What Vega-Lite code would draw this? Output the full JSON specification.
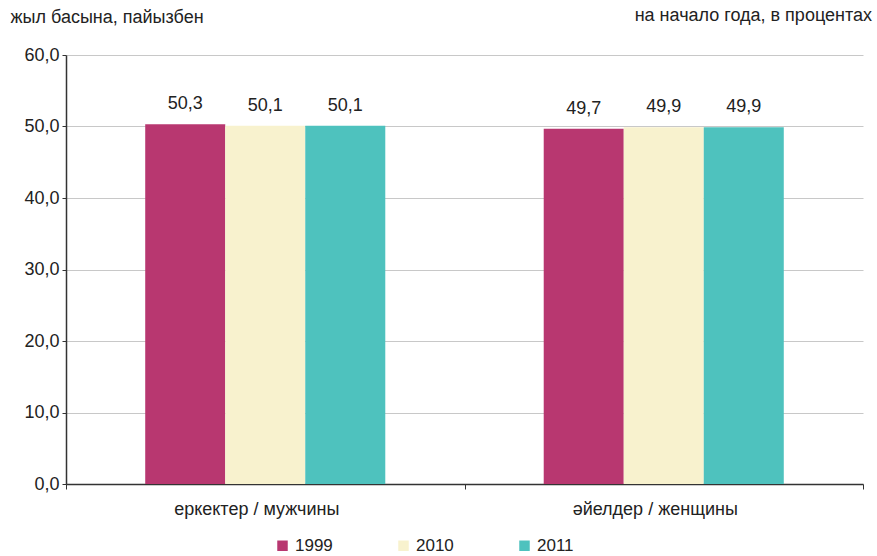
{
  "$schema": "https://vega.github.io/schema/vega-lite/v6.json",
  "width": 797,
  "height": 429,
  "autosize": {"type": "none"},
  "padding": {"left": 66, "top": 55, "right": 14, "bottom": 72},
  "background": "white",
  "title": {
    "text": "на начало года, в процентах",
    "anchor": "end",
    "frame": "group",
    "orient": "top",
    "dx": 9,
    "offset": 0,
    "dy": 17,
    "fontSize": 18,
    "fontWeight": "normal",
    "font": "Liberation Sans",
    "color": "#222222"
  },
  "config": {
    "locale": {"number": {"decimal": ",", "thousands": " ", "grouping": [3], "currency": ["", ""]}},
    "font": "Liberation Sans",
    "view": {"stroke": null}
  },
  "data": {
    "values": [
      {"category": "еркектер / мужчины", "year": "1999", "value": 50.3},
      {"category": "еркектер / мужчины", "year": "2010", "value": 50.1},
      {"category": "еркектер / мужчины", "year": "2011", "value": 50.1},
      {"category": "әйелдер / женщины", "year": "1999", "value": 49.7},
      {"category": "әйелдер / женщины", "year": "2010", "value": 49.9},
      {"category": "әйелдер / женщины", "year": "2011", "value": 49.9}
    ]
  },
  "encoding": {
    "x": {
      "field": "category",
      "type": "nominal",
      "sort": null,
      "scale": {"paddingInner": 0, "paddingOuter": 0},
      "axis": {
        "title": null,
        "labelAngle": 0,
        "labelFontSize": 18,
        "labelColor": "#222222",
        "labelPadding": 11,
        "labelOffset": -9,
        "tickBand": "extent",
        "tickSize": 5,
        "tickColor": "#333333",
        "domainColor": "#333333",
        "domainWidth": 1.5
      }
    },
    "xOffset": {
      "field": "year",
      "type": "nominal",
      "scale": {"paddingInner": 0, "paddingOuter": 0.99}
    },
    "y": {
      "field": "value",
      "type": "quantitative",
      "scale": {"domain": [0, 60]},
      "axis": {
        "values": [0, 10, 20, 30, 40, 50, 60],
        "format": ".1f",
        "title": "жыл басына, пайызбен",
        "titleAngle": 0,
        "titleX": -56,
        "titleY": -38,
        "titleAlign": "left",
        "titleBaseline": "middle",
        "titleFontSize": 18,
        "titleFontWeight": "normal",
        "titleColor": "#222222",
        "labelFontSize": 18,
        "labelColor": "#222222",
        "labelPadding": 3,
        "tickSize": 4,
        "tickColor": "#333333",
        "domainColor": "#333333",
        "domainWidth": 1.5,
        "grid": true,
        "gridColor": "#C8C8C8",
        "gridWidth": 1
      }
    }
  },
  "layer": [
    {
      "mark": {"type": "bar"},
      "encoding": {
        "color": {
          "field": "year",
          "type": "nominal",
          "scale": {"domain": ["1999", "2010", "2011"], "range": ["#B83770", "#F8F2CE", "#4EC2BE"]},
          "legend": {
            "title": null,
            "orient": "none",
            "legendX": 208,
            "legendY": 482,
            "direction": "horizontal",
            "symbolType": "square",
            "symbolSize": 110,
            "symbolStrokeWidth": 0,
            "labelFontSize": 17,
            "labelColor": "#222222",
            "labelOffset": 4,
            "columnPadding": 62
          }
        }
      }
    },
    {
      "mark": {"type": "text", "baseline": "alphabetic", "dy": -15, "fontSize": 18, "color": "#222222"},
      "encoding": {
        "text": {"field": "value", "type": "quantitative", "format": ".1f"}
      }
    }
  ]
}
